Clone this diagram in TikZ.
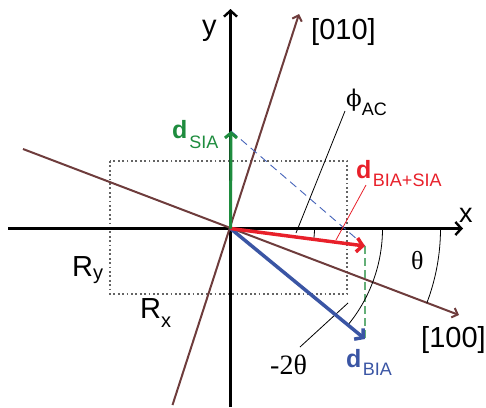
\documentclass[tikz,border=0pt]{standalone}
\usepackage{fontspec}
\setmainfont{Liberation Sans}
\newfontfamily\serifgr{Liberation Serif}
\newfontfamily\dvserif{DejaVu Serif}
\usetikzlibrary{arrows.meta}
\definecolor{dgreen}{RGB}{30,140,62}
\definecolor{dred}{RGB}{232,32,42}
\definecolor{dblue}{RGB}{58,85,164}
\definecolor{dbrown}{RGB}{110,60,60}
\definecolor{dgray}{RGB}{100,100,100}
\definecolor{lgreen}{RGB}{100,175,120}
\definecolor{lblue}{RGB}{70,100,185}
\newcommand\lsub[2][8]{\raisebox{-#1pt}{\fontsize{18}{18}\selectfont\mdseries #2}}
\tikzset{
  lbl/.style={inner sep=0pt, anchor=base west, font=\fontsize{29}{29}\selectfont},
  dlbl/.style={inner sep=0pt, anchor=base west, font=\fontsize{25}{25}\selectfont\bfseries},
  axisline/.style={line width=2.4pt, -{Straight Barb[length=6pt,width=13pt]}},
  crysline/.style={dbrown, line width=2pt, -{Straight Barb[length=5pt,width=10pt]}},
  vecarrow/.style={line width=3.5pt, -{Straight Barb[length=6pt,width=14pt]}},
  leader/.style={line width=0.8pt},
}
\begin{document}
\begin{tikzpicture}[x=1pt,y=-1pt]
\useasboundingbox (0,0) rectangle (486,407);
% coordinates
\coordinate (O) at (230.5,228.5);
\coordinate (xL) at (8,228.5);
\coordinate (xR) at (463,228.5);
\coordinate (yB) at (230.5,407);
\coordinate (yT) at (230.5,9);
\coordinate (c100a) at (23,149);
\coordinate (c100b) at (459,315);
\coordinate (c010a) at (172.5,405);
\coordinate (c010b) at (299,14);
\coordinate (gtip) at (231,131);
\coordinate (rtip) at (365,246);
\coordinate (btip) at (365,339);
\coordinate (rectA) at (110,161);
\coordinate (rectB) at (347,294);
\coordinate (phiA) at (345,111);
\coordinate (phiB) at (296,233);
\coordinate (redA) at (366,185);
\coordinate (redB) at (336,240);
\coordinate (ttA) at (300,347);
\coordinate (ttB) at (348,303);
% dotted rectangle
\draw[dgray, line width=1.8pt, dash pattern=on 1.8pt off 2.6pt] (rectA) rectangle (rectB);
% axes
\draw[axisline] (xL) -- (xR);
\draw[axisline] (yB) -- (yT);
% crystal axes
\draw[crysline] (c100a) -- (c100b);
\draw[crysline] (c010a) -- (c010b);
% dashed construction lines
\draw[lblue, line width=0.9pt, dash pattern=on 8pt off 5pt] (gtip) -- (rtip);
\draw[lgreen, line width=1.6pt, dash pattern=on 8pt off 4pt] (rtip) -- (btip);
% arcs
\draw[leader] (O) ++(84,0) arc[start angle=0, end angle=7.4, radius=84];
\draw[leader] (O) ++(210,0) arc[start angle=0, end angle=20.8, radius=210];
\draw[leader] (O) ++(152,0) arc[start angle=0, end angle=39.5, radius=152];
% leaders
\draw[leader] (phiA) -- (phiB);
\draw[leader, dred] (redA) -- (redB);
\draw[leader] (ttA) -- (ttB);
% vectors
\draw[vecarrow, dblue] (O) -- (btip);
\draw[vecarrow, dred] (O) -- (rtip);
\draw[vecarrow, dgreen, line width=3pt, -{Straight Barb[length=5pt,width=12pt]}] (O) -- (gtip);
% labels
\node[lbl] (ylab) at (202,35) {y};
\node[lbl, font=\fontsize{27}{27}\selectfont] (xlab) at (459,222) {x};
\node[lbl] (l010) at (311,39) {[010]};
\node[lbl] (l100) at (421,347) {[100]};
\node[lbl] (Ry) at (72,276) {R\raisebox{-3pt}{\fontsize{20}{20}\selectfont y}};
\node[lbl] (Rx) at (140,318) {R\raisebox{-9pt}{\fontsize{20}{20}\selectfont x}};
\node[dlbl, text=dgreen] (dsia) at (172,138) {d\kern2pt\lsub[10]{SIA}};
\node[dlbl, text=dred] (dbs) at (356,178) {d\kern1.5pt\lsub{BIA+SIA}};
\node[dlbl, text=dblue] (dbia) at (346,367) {d\kern1.5pt\lsub{BIA}};
\node[lbl, font=\fontsize{23}{23}\dvserif] (phi) at (346,106) {ϕ\lsub[9]{\rmfamily AC}};
\node[lbl, font=\fontsize{26}{26}\serifgr] (th) at (411,269) {θ};
\node[lbl, font=\fontsize{28}{28}\serifgr] (mtt) at (270,374) {-2θ};
\end{tikzpicture}
\end{document}
